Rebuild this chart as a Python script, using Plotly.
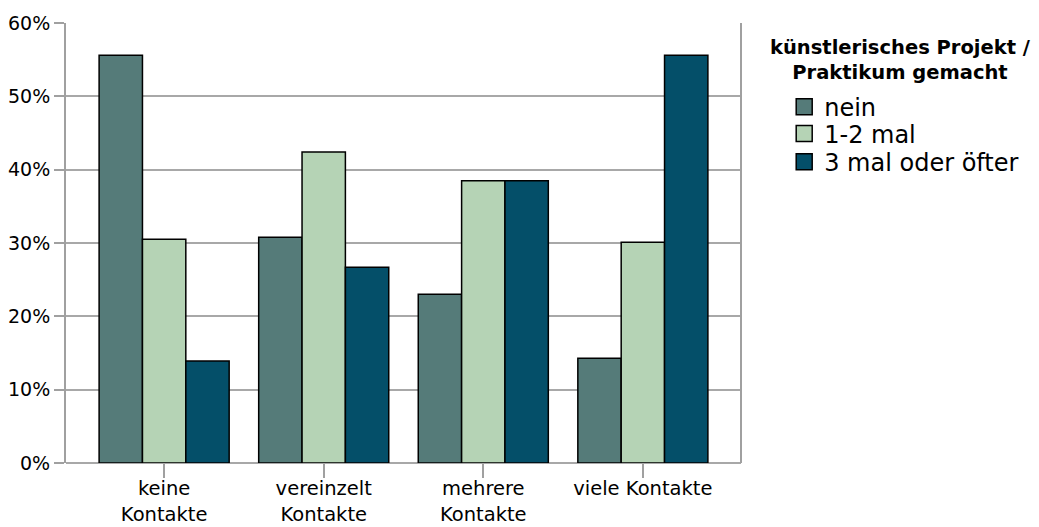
import plotly.graph_objects as go

categories = ["keine<br>Kontakte", "vereinzelt<br>Kontakte", "mehrere<br>Kontakte", "viele Kontakte"]
series_names = ["nein", "1-2 mal", "3 mal oder öfter"]
nein = [55.6, 30.8, 23.0, 14.3]
mal_1_2 = [30.5, 42.4, 38.5, 30.1]
mal_3_plus = [13.9, 26.7, 38.5, 55.6]
y_ticks = [0, 10, 20, 30, 40, 50, 60]
y_labels = [f"{v}%" for v in y_ticks]

colors = ["#557b79", "#b5d3b5", "#044f69"]
font_family = "DejaVu Sans, Liberation Sans, Arial, sans-serif"

# page has an 8px body margin, so the figure is drawn 8px smaller
W, H = 1031, 519
L, T, R, B = 58, 15, 298, 64

fig = go.Figure()

for name, vals, col in zip(series_names, [nein, mal_1_2, mal_3_plus], colors):
    fig.add_trace(go.Bar(
        x=categories, y=vals, name=name, showlegend=False,
        marker=dict(color=col, line=dict(color="black", width=1.5))
    ))

# one legend per entry so the row spacing can be set freely
legend_ids = ["legend", "legend2", "legend3"]
legend_y = [0.809, 0.748, 0.684]
for name, col, lid in zip(series_names, colors, legend_ids):
    fig.add_trace(go.Scatter(
        x=[None], y=[None], mode="markers", name=name, legend=lid,
        marker=dict(symbol="square", size=22, color=col,
                    line=dict(color="black", width=1.5))
    ))

fig.update_xaxes(
    range=[-0.615, 3.615],
    showline=False,
    ticks="outside", ticklen=14, tickwidth=2, tickcolor="#a0a0a0",
    ticklabelstandoff=-6,
    tickfont=dict(size=19.5, color="black", family=font_family),
    showgrid=False,
)
fig.update_yaxes(
    range=[0, 60],
    tickvals=y_ticks, ticktext=y_labels,
    showline=True, linecolor="#a0a0a0", linewidth=2,
    ticks="outside", ticklen=10, tickwidth=2, tickcolor="#a0a0a0",
    showgrid=True, gridcolor="#a8a8a8", gridwidth=2,
    tickfont=dict(size=19, color="black", family=font_family),
    zeroline=True, zerolinecolor="#a8a8a8", zerolinewidth=2,
)

# right border of plot area
fig.add_shape(type="line", xref="paper", yref="paper", x0=1, x1=1, y0=0, y1=1,
              line=dict(color="#a0a0a0", width=2))

fig.add_annotation(
    xref="paper", yref="paper", x=1.2356, y=0.917,
    text="<b>künstlerisches Projekt /<br>Praktikum gemacht</b>",
    showarrow=False, xanchor="center", yanchor="middle", align="center",
    font=dict(size=19.5, color="black", family=font_family),
)

legend_style = dict(
    x=1.064, xanchor="left", yanchor="middle",
    font=dict(size=24, color="black", family=font_family),
    itemwidth=30, itemsizing="trace", bgcolor="rgba(0,0,0,0)",
)

fig.update_layout(
    width=W, height=H,
    barmode="group", bargap=0.185, bargroupgap=0,
    plot_bgcolor="white", paper_bgcolor="white",
    margin=dict(l=L, r=R, t=T, b=B, autoexpand=False),
    font=dict(family=font_family, color="black"),
    legend=dict(y=legend_y[0], **legend_style),
    legend2=dict(y=legend_y[1], **legend_style),
    legend3=dict(y=legend_y[2], **legend_style),
)

fig.write_html("out.html")
